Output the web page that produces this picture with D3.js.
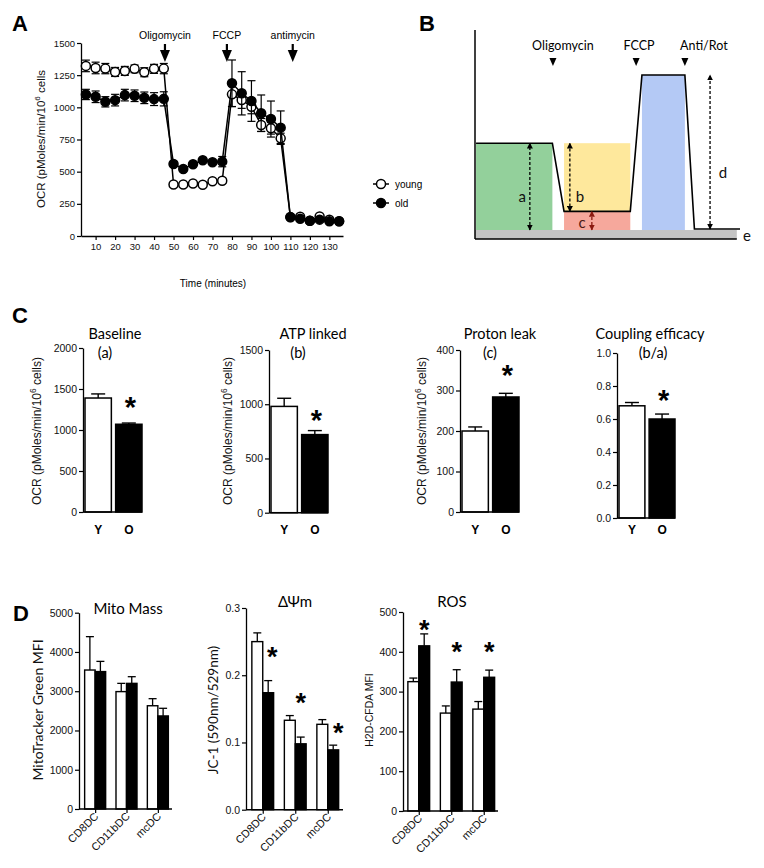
<!DOCTYPE html>
<html><head><meta charset="utf-8">
<script src="https://cdn.jsdelivr.net/npm/d3@7"></script>
<style>body{margin:0;background:#fff}</style>
</head><body>
<svg id="c" width="764" height="868" xmlns="http://www.w3.org/2000/svg"></svg>
<script>
// ---------------- DATA ----------------
// Panel A: Seahorse OCR time course
const timeA = [5,10,15,20,25,30,35,40,45,50,55,60,65,70,75,80,85,90,95,100,105,110,115,120,125,130,135];
const youngOCR = [1322,1306,1301,1275,1283,1299,1273,1299,1301,400,400,408,398,426,429,1101,1057,1005,863,837,759,147,150,119,152,127,114];
const youngErr = [45,45,40,35,35,30,35,35,40,10,10,10,10,15,20,95,65,55,50,45,40,10,10,8,10,8,8];
const oldOCR   = [1100,1082,1043,1056,1095,1090,1074,1064,1066,560,521,558,589,573,578,1187,1109,1049,954,909,842,145,134,119,127,114,114];
const oldErr   = [40,45,40,45,45,45,45,50,55,15,15,15,15,15,40,181,168,158,142,140,130,10,10,8,10,8,8];
const timeTicksA = [10,20,30,40,50,60,70,80,90,100,110,120,130];
const ocrTicksA = [0,250,500,750,1000,1250,1500];
const injectionsA = ["Oligomycin","FCCP","antimycin"];
const injectionTimesA = [45.6,77.4,111.2];
const legendA = ["young","old"];

// Panel B: schematic profile (arbitrary units)
const profileT   = [0.4,29.2,33.6,58.6,63,79.2,82.8,100];
const profileOCR = [56,56,12,12,100,100,0.6,0.6];
const injectionsB = ["Oligomycin","FCCP","Anti/Rot"];
const injectionTimesB = [29.4,60.8,79.2];

// Panel C
const groupsC = ["Y","O"];
const baselineVals = [1390,1070], baselineErr = [50,15];
const atpVals = [980,720], atpErr = [75,37];
const leakVals = [200,284], leakErr = [10,9];
const couplingVals = [0.68,0.60], couplingErr = [0.02,0.03];
const ticksBaseline = [0,500,1000,1500,2000];
const ticksAtp = [0,500,1000,1500];
const ticksLeak = [0,100,200,300,400];
const ticksCoupling = [0,0.2,0.4,0.6,0.8,1.0];
const starsC = [1366,919,356,0.758];

// Panel D
const dcTypes = ["CD8DC","CD11bDC","mcDC"];
const mitoYoung = [3540,2990,2630], mitoYoungErr = [850,210,180];
const mitoOld   = [3500,3200,2370], mitoOldErr   = [260,170,195];
const jcYoung = [0.250,0.133,0.127], jcYoungErr = [0.013,0.007,0.007];
const jcOld   = [0.174,0.098,0.089], jcOldErr   = [0.018,0.010,0.007];
const rosYoung = [325,246,256], rosYoungErr = [9,18,19];
const rosOld   = [415,324,336], rosOldErr   = [30,31,18];
const ticksMito = [0,1000,2000,3000,4000,5000];
const ticksJc = [0,0.1,0.2,0.3];
const ticksRos = [0,100,200,300,400,500];
const starsJc = [0.2375,0.169,0.1245];
const starsRos = [472,415,415];

// ---------------- DRAW ----------------
const FA = "'Liberation Sans', Arial, Helvetica, sans-serif";
const FC = "Lato, 'Open Sans', 'DejaVu Sans', sans-serif";
const svg = d3.select("#c");
svg.append("rect").attr("width",764).attr("height",868).attr("fill","#fff");
const fmtInt = d3.format("d");

function styleAxis(g, fs, font) {
  g.attr("font-family", font || FA).attr("font-size", fs);
  g.select(".domain").attr("stroke","#000").attr("stroke-width",1.3);
  g.selectAll(".tick line").attr("stroke","#000").attr("stroke-width",1.2);
  g.selectAll(".tick text").attr("fill","#111").attr("font-family", font || FA);
}
function panelLetter(t, x, y) {
  svg.append("text").attr("x",x).attr("y",y).attr("font-family",FA).attr("font-weight","bold")
    .attr("font-size",22).attr("text-anchor","middle").text(t);
}
function star(g, x, yc, fs) {
  g.append("text").attr("x",x).attr("y",yc + 0.58*fs).attr("text-anchor","middle")
    .attr("font-family",FA).attr("font-weight","bold").attr("font-size",fs).text("*");
}
function yLabel(g, parts, cx, cy, fs, font) {
  const t = g.append("text").attr("transform",`translate(${cx + fs*0.35},${cy}) rotate(-90)`)
    .attr("text-anchor","middle").attr("font-family",font).attr("font-size",fs).attr("fill","#111");
  parts.forEach(p => {
    const s = t.append("tspan").text(p.t);
    if (p.sup) s.attr("dy",-fs*0.4).attr("font-size",fs*0.7);
    if (p.after) s.attr("dy",fs*0.4);
  });
}

// ===== Panel A =====
panelLetter("A", 20, 31);
const gA = svg.append("g");
const xA = d3.scaleLinear().domain([2.5,137]).range([81,343]);
const yA = d3.scaleLinear().domain([0,1500]).range([236,43]);
styleAxis(gA.append("g").attr("transform","translate(81,0)")
  .call(d3.axisLeft(yA).tickValues(ocrTicksA).tickSize(4).tickSizeOuter(0).tickPadding(2).tickFormat(fmtInt)), 9.5);
styleAxis(gA.append("g").attr("transform","translate(0,236)")
  .call(d3.axisBottom(xA).tickValues(timeTicksA).tickSize(4).tickSizeOuter(0).tickPadding(3).tickFormat(fmtInt)), 9.5);
yLabel(gA, [{t:"OCR (pMoles/min/10"},{t:"6",sup:true},{t:" cells",after:true}], 41, 139, 11.5, FA);
gA.append("text").attr("x",213).attr("y",287).attr("text-anchor","middle").attr("font-family",FA)
  .attr("font-size",10).text("Time (minutes)");

// injection arrows
injectionsA.forEach((name,i) => {
  const x = xA(injectionTimesA[i]);
  gA.append("text").attr("x",x).attr("y",39).attr("text-anchor","middle").attr("font-family",FA)
    .attr("font-size",10.5).text(name);
  gA.append("line").attr("x1",x).attr("x2",x).attr("y1",44).attr("y2",51).attr("stroke","#000").attr("stroke-width",2.2);
  gA.append("path").attr("d",`M${x-5},50L${x+5},50L${x},62Z`).attr("fill","#000");
});

function seriesA(vals, errs, fill) {
  const line = d3.line().x((d,i)=>xA(timeA[i])).y(d=>yA(d));
  gA.append("path").datum(vals).attr("d",line).attr("fill","none").attr("stroke","#000").attr("stroke-width",1.5);
  const eb = gA.append("g").attr("stroke","#000").attr("stroke-width",1.2);
  vals.forEach((v,i) => {
    const x = xA(timeA[i]), y1 = yA(v+errs[i]), y2 = yA(v-errs[i]);
    eb.append("line").attr("x1",x).attr("x2",x).attr("y1",y1).attr("y2",y2);
    eb.append("line").attr("x1",x-4).attr("x2",x+4).attr("y1",y1).attr("y2",y1);
    eb.append("line").attr("x1",x-4).attr("x2",x+4).attr("y1",y2).attr("y2",y2);
  });
  gA.append("g").selectAll("circle").data(vals).join("circle")
    .attr("cx",(d,i)=>xA(timeA[i])).attr("cy",d=>yA(d)).attr("r",4.5)
    .attr("fill",fill).attr("stroke","#000").attr("stroke-width",1.5);
}
seriesA(youngOCR, youngErr, "#fff");
seriesA(oldOCR, oldErr, "#000");

// legend
legendA.forEach((name,i) => {
  const y = 184 + i*19;
  gA.append("line").attr("x1",373).attr("x2",389).attr("y1",y).attr("y2",y).attr("stroke","#000").attr("stroke-width",1.5);
  gA.append("circle").attr("cx",381).attr("cy",y).attr("r",4.5).attr("fill",i?"#000":"#fff").attr("stroke","#000").attr("stroke-width",1.5);
  gA.append("text").attr("x",395).attr("y",y+3.5).attr("font-family",FA).attr("font-size",10).text(name);
});

// ===== Panel B =====
panelLetter("B", 427, 31);
const gB = svg.append("g");
const xB = d3.scaleLinear().domain([0,100]).range([475,740]);
const yB = d3.scaleLinear().domain([0,100]).range([230,75]);
const defs = svg.append("defs");
[["arrK","#000"],["arrR","#8b1a10"]].forEach(([id,c]) => {
  defs.append("marker").attr("id",id).attr("viewBox","0 0 10 10").attr("refX",9).attr("refY",5)
    .attr("markerWidth",6).attr("markerHeight",6).attr("markerUnits","userSpaceOnUse")
    .attr("orient","auto-start-reverse")
    .append("path").attr("d","M0,0L10,5L0,10Z").attr("fill",c);
});
gB.append("rect").attr("x",xB(0)).attr("y",yB(0)).attr("width",xB(98.8)-xB(0)).attr("height",yB(-5.8)-yB(0)).attr("fill","#c4c4c4");
gB.append("rect").attr("x",xB(0.4)).attr("y",yB(56)).attr("width",xB(29.2)-xB(0.4)).attr("height",yB(0)-yB(56)).attr("fill","#93d09b");
gB.append("rect").attr("x",xB(33.6)).attr("y",yB(56)).attr("width",xB(58.6)-xB(33.6)).attr("height",yB(12)-yB(56)).attr("fill","#fee89c");
gB.append("rect").attr("x",xB(33.6)).attr("y",yB(12)).attr("width",xB(58.6)-xB(33.6)).attr("height",yB(0)-yB(12)).attr("fill","#f6a89c");
gB.append("rect").attr("x",xB(63)).attr("y",yB(100)).attr("width",xB(79.2)-xB(63)).attr("height",yB(0)-yB(100)).attr("fill","#b4c9f5");
// axes
gB.append("line").attr("x1",xB(0)).attr("x2",xB(0)).attr("y1",30).attr("y2",yB(-5.8)).attr("stroke","#000").attr("stroke-width",1.5);
gB.append("line").attr("x1",xB(0)).attr("x2",xB(98.8)).attr("y1",yB(-5.8)).attr("y2",yB(-5.8)).attr("stroke","#000").attr("stroke-width",1.5);
// profile
gB.append("path").datum(profileOCR).attr("d",d3.line().x((d,i)=>xB(profileT[i])).y(d=>yB(d)))
  .attr("fill","none").attr("stroke","#000").attr("stroke-width",1.6);
// injections
injectionsB.forEach((name,i) => {
  const x = xB(injectionTimesB[i]);
  gB.append("text").attr("x", x + (i===0?10:(i===1?3:19))).attr("y",50).attr("text-anchor","middle")
    .attr("font-family",FC).attr("font-size",12.5).text(name);
  gB.append("path").attr("d",`M${x-3.5},58L${x+3.5},58L${x},66Z`).attr("fill","#000");
});
// dashed double arrows
function dArrow(t, v1, v2, mk, col) {
  gB.append("line").attr("x1",xB(t)).attr("x2",xB(t)).attr("y1",yB(v1)).attr("y2",yB(v2))
    .attr("stroke",col).attr("stroke-width",1.3).attr("stroke-dasharray","3,2")
    .attr("marker-start",`url(#${mk})`).attr("marker-end",`url(#${mk})`);
}
dArrow(20.7, 0, 56, "arrK", "#000");
dArrow(35.8, 12, 56, "arrK", "#000");
dArrow(44.1, 0, 12, "arrR", "#8b1a10");
dArrow(88.7, 0.6, 100, "arrK", "#000");
[["a",17.8,21],["b",39.6,21],["c",40.4,4.5],["d",93.6,36.5],["e",102.6,-4]].forEach(([t,x,v]) => {
  gB.append("text").attr("x",xB(x)).attr("y",yB(v)+5).attr("text-anchor","middle")
    .attr("font-family",FC).attr("font-size",15).attr("fill", t==="c"?"#4a1a14":"#111").text(t);
});

// ===== Panel C =====
panelLetter("C", 20, 323);
function panelC(s) {
  const g = svg.append("g");
  const y = d3.scaleLinear().domain([0, s.max]).range([s.bot, s.top]);
  const x = d3.scaleBand().domain(groupsC).range([s.x0 + 2, s.x1]).paddingInner(0.14);
  s.vals.forEach((v,i) => {
    const cx = x(groupsC[i]) + x.bandwidth()/2, ye = y(v + s.err[i]);
    g.append("line").attr("x1",cx).attr("x2",cx).attr("y1",y(v)).attr("y2",ye).attr("stroke","#000").attr("stroke-width",1.4);
    g.append("line").attr("x1",cx-7).attr("x2",cx+7).attr("y1",ye).attr("y2",ye).attr("stroke","#000").attr("stroke-width",1.4);
  });
  g.selectAll("rect.bar").data(s.vals).join("rect").attr("class","bar")
    .attr("x",(d,i)=>x(groupsC[i])).attr("y",d=>y(d)).attr("width",x.bandwidth())
    .attr("height",d=>s.bot - y(d)).attr("fill",(d,i)=>i?"#000":"#fff")
    .attr("stroke","#000").attr("stroke-width",1.5);
  styleAxis(g.append("g").attr("transform",`translate(${s.x0},0)`)
    .call(d3.axisLeft(y).tickValues(s.ticks).tickSize(4).tickSizeOuter(0).tickPadding(2).tickFormat(s.fmt)), 10.5);
  g.append("line").attr("x1",s.x0).attr("x2",s.x1).attr("y1",s.bot).attr("y2",s.bot).attr("stroke","#000").attr("stroke-width",1.4);
  g.selectAll("text.xl").data(groupsC).join("text").attr("class","xl")
    .attr("x",d=>x(d)+x.bandwidth()/2).attr("y",534).attr("text-anchor","middle")
    .attr("font-family",FA).attr("font-weight","bold").attr("font-size",12).text(d=>d);
  g.append("text").attr("x",s.tx).attr("y",339).attr("text-anchor","middle").attr("font-family",FC).attr("font-size",14.5).text(s.title);
  g.append("text").attr("x",s.sx).attr("y",358).attr("text-anchor","middle").attr("font-family",FC).attr("font-size",14.5).text(s.sub);
  if (s.ylx) yLabel(g, [{t:"OCR (pMoles/min/10"},{t:"6",sup:true},{t:" cells)",after:true}], s.ylx, 431, 12, FA);
  star(g, x("O") + x.bandwidth()/2 + 1.5, y(s.star), 29);
}
panelC({x0:83, x1:142, top:348, bot:512, max:2000, ticks:ticksBaseline, fmt:fmtInt, vals:baselineVals, err:baselineErr,
  title:"Baseline", sub:"(a)", tx:115, sx:105, ylx:37, star:starsC[0]});
panelC({x0:269, x1:328, top:350, bot:512.7, max:1500, ticks:ticksAtp, fmt:fmtInt, vals:atpVals, err:atpErr,
  title:"ATP linked", sub:"(b)", tx:313, sx:298, ylx:228, star:starsC[1]});
panelC({x0:460, x1:519, top:350, bot:512, max:400, ticks:ticksLeak, fmt:fmtInt, vals:leakVals, err:leakErr,
  title:"Proton leak", sub:"(c)", tx:500, sx:490, ylx:422, star:starsC[2]});
panelC({x0:617, x1:675, top:353, bot:518, max:1.0, ticks:ticksCoupling, fmt:d3.format(".1f"), vals:couplingVals, err:couplingErr,
  title:"Coupling efficacy", sub:"(b/a)", tx:650, sx:653, ylx:null, star:starsC[3]});

// ===== Panel D =====
panelLetter("D", 21, 621);
function panelD(s) {
  const g = svg.append("g");
  const y = d3.scaleLinear().domain([0, s.max]).range([s.bot, s.top]);
  const xg = d3.scaleBand().domain(dcTypes).range([s.x0, s.x1]).paddingInner(0.33).paddingOuter(s.po);
  const xs = d3.scaleBand().domain(["Y","O"]).range([0, xg.bandwidth()]);
  const series = [{v:s.young, e:s.yErr, fill:"#fff", k:"Y"},{v:s.old, e:s.oErr, fill:"#000", k:"O"}];
  series.forEach(ser => {
    ser.v.forEach((v,i) => {
      const cx = xg(dcTypes[i]) + xs(ser.k) + xs.bandwidth()/2, ye = y(v + ser.e[i]);
      g.append("line").attr("x1",cx).attr("x2",cx).attr("y1",y(v)).attr("y2",ye).attr("stroke","#000").attr("stroke-width",1.3);
      g.append("line").attr("x1",cx-4).attr("x2",cx+4).attr("y1",ye).attr("y2",ye).attr("stroke","#000").attr("stroke-width",1.3);
    });
    g.append("g").selectAll("rect").data(ser.v).join("rect")
      .attr("x",(d,i)=>xg(dcTypes[i]) + xs(ser.k)).attr("y",d=>y(d)).attr("width",xs.bandwidth())
      .attr("height",d=>s.bot - y(d)).attr("fill",ser.fill).attr("stroke","#000").attr("stroke-width",1.4);
  });
  styleAxis(g.append("g").attr("transform",`translate(${s.x0},0)`)
    .call(d3.axisLeft(y).tickValues(s.ticks).tickSize(4).tickSizeOuter(0).tickPadding(2).tickFormat(s.fmt)), 10.5);
  const xa = g.append("g").attr("transform",`translate(0,${s.bot})`)
    .call(d3.axisBottom(d3.scalePoint().domain(dcTypes).range([xg(dcTypes[0])+xg.bandwidth()/2, xg(dcTypes[2])+xg.bandwidth()/2]))
      .tickSize(4).tickFormat(""));
  xa.select(".domain").remove();
  xa.selectAll(".tick line").attr("stroke","#000").attr("stroke-width",1.2);
  g.append("line").attr("x1",s.x0).attr("x2",s.xend).attr("y1",s.bot).attr("y2",s.bot).attr("stroke","#000").attr("stroke-width",1.4);
  g.selectAll("text.xl").data(dcTypes).join("text").attr("class","xl")
    .attr("transform",d=>`translate(${xg(d)+xg.bandwidth()/2+4},${s.bot+8}) rotate(-45)`)
    .attr("text-anchor","end").attr("font-family",FA).attr("font-size",11).attr("fill","#111").text(d=>d);
  g.append("text").attr("x",s.tx).attr("y",s.ty).attr("text-anchor","middle").attr("font-family",FC).attr("font-size",15).text(s.title);
  yLabel(g, [{t:s.ylab}], s.ylx, 710, s.ylfs, s.ylfont);
  if (s.stars) s.stars.forEach((v,i) => {
    star(g, xg(dcTypes[i]) + xs("O") + xs.bandwidth()/2 + s.sdx[i], y(v), 27);
  });
}
panelD({x0:79, x1:174, xend:172, po:0.18, top:612.7, bot:809, max:5000, ticks:ticksMito, fmt:fmtInt,
  young:mitoYoung, yErr:mitoYoungErr, old:mitoOld, oErr:mitoOldErr, title:"Mito Mass", tx:128, ty:614,
  ylab:"MitoTracker Green  MFI", ylx:38, ylfs:14, ylfont:FC, stars:null});
panelD({x0:246, x1:344.5, xend:343, po:0.18, top:608, bot:809.7, max:0.3, ticks:ticksJc, fmt:d3.format(".1f"),
  young:jcYoung, yErr:jcYoungErr, old:jcOld, oErr:jcOldErr, title:"ΔΨm", tx:295, ty:607,
  ylab:"JC-1 (590nm/529nm)", ylx:213, ylfs:13.5, ylfont:FC, stars:starsJc, sdx:[4,0,5]});
panelD({x0:403, x1:499.5, xend:498, po:0.15, top:612, bot:811, max:500, ticks:ticksRos, fmt:fmtInt,
  young:rosYoung, yErr:rosYoungErr, old:rosOld, oErr:rosOldErr, title:"ROS", tx:452, ty:607,
  ylab:"H2D-CFDA MFI", ylx:369, ylfs:10.5, ylfont:FA, stars:starsRos, sdx:[0,0,0]});
</script>
</body></html>
